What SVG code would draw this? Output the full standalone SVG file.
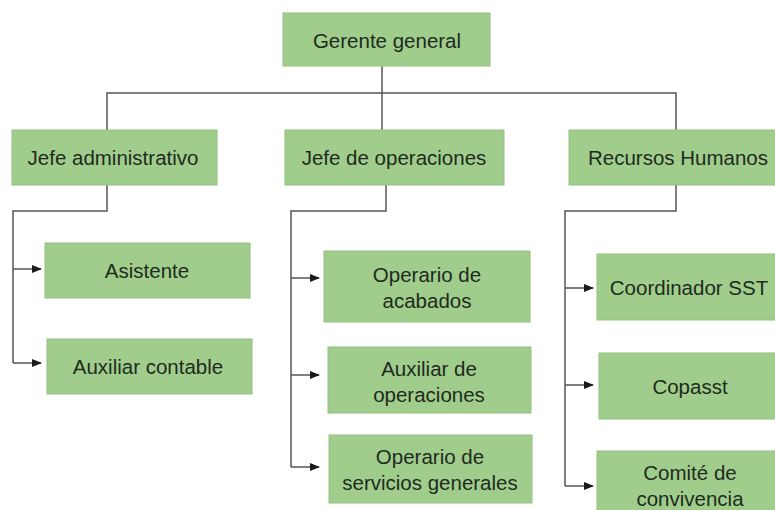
<svg xmlns="http://www.w3.org/2000/svg" width="775" height="510" viewBox="0 0 775 510">
<defs>
<marker id="arr" markerWidth="10" markerHeight="8" refX="9" refY="4" orient="auto" markerUnits="userSpaceOnUse">
<path d="M0,0 L10,4 L0,8 Z" fill="#1a1a1a"/>
</marker>
</defs>
<style>
.box{fill:#a0cd8b;stroke:#93c27e;stroke-width:1}
.t{font-family:"Liberation Sans",Arial,sans-serif;font-size:20.5px;fill:#1e2b1e;text-anchor:middle;dominant-baseline:central}
.c{fill:none;stroke:#555;stroke-width:1.5}
</style>
<rect width="775" height="510" fill="#fff"/>
<g id="connectors">
<path class="c" d="M382,66 V130"/>
<path class="c" d="M107,130 V93 H676 V130"/>
<path class="c" d="M107,185 V211 H13 V363"/>
<path class="c" marker-end="url(#arr)" d="M13,269 H41"/>
<path class="c" marker-end="url(#arr)" d="M13,363 H41"/>
<path class="c" d="M386,185 V211 H291 V467"/>
<path class="c" marker-end="url(#arr)" d="M291,278 H319"/>
<path class="c" marker-end="url(#arr)" d="M291,375 H319"/>
<path class="c" marker-end="url(#arr)" d="M291,467 H319"/>
<path class="c" d="M676,185 V211 H565 V486"/>
<path class="c" marker-end="url(#arr)" d="M565,288 H593"/>
<path class="c" marker-end="url(#arr)" d="M565,385 H593"/>
<path class="c" marker-end="url(#arr)" d="M565,486 H593"/>
</g>
<g id="gerente"><rect class="box" x="283" y="13" width="207" height="53"/><text class="t" x="387" y="40">Gerente general</text></g>
<g id="jefe-adm"><rect class="box" x="12" y="130" width="205" height="55"/><text class="t" x="113" y="157">Jefe administrativo</text></g>
<g id="jefe-op"><rect class="box" x="285" y="130" width="219" height="55"/><text class="t" x="394" y="157">Jefe de operaciones</text></g>
<g id="rrhh"><rect class="box" x="569" y="130" width="210" height="55"/><text class="t" x="678" y="157">Recursos Humanos</text></g>
<g id="asistente"><rect class="box" x="45" y="243" width="205" height="55"/><text class="t" x="147" y="270">Asistente</text></g>
<g id="aux-contable"><rect class="box" x="47" y="339" width="205" height="55"/><text class="t" x="148" y="366">Auxiliar contable</text></g>
<g id="op-acabados"><rect class="box" x="324" y="251" width="206" height="71"/><text class="t" x="427" y="274">Operario de</text><text class="t" x="427" y="300">acabados</text></g>
<g id="aux-op"><rect class="box" x="328" y="347" width="203" height="66"/><text class="t" x="429" y="368">Auxiliar de</text><text class="t" x="429" y="394">operaciones</text></g>
<g id="op-serv"><rect class="box" x="329" y="435" width="203" height="68"/><text class="t" x="430" y="456">Operario de</text><text class="t" x="430" y="482">servicios generales</text></g>
<g id="coord-sst"><rect class="box" x="597" y="254" width="182" height="66"/><text class="t" x="689" y="287">Coordinador SST</text></g>
<g id="copasst"><rect class="box" x="599" y="353" width="180" height="66"/><text class="t" x="690" y="386">Copasst</text></g>
<g id="comite"><rect class="box" x="597" y="451" width="182" height="64"/><text class="t" x="690" y="472">Comité de</text><text class="t" x="690" y="498">convivencia</text></g>
</svg>
